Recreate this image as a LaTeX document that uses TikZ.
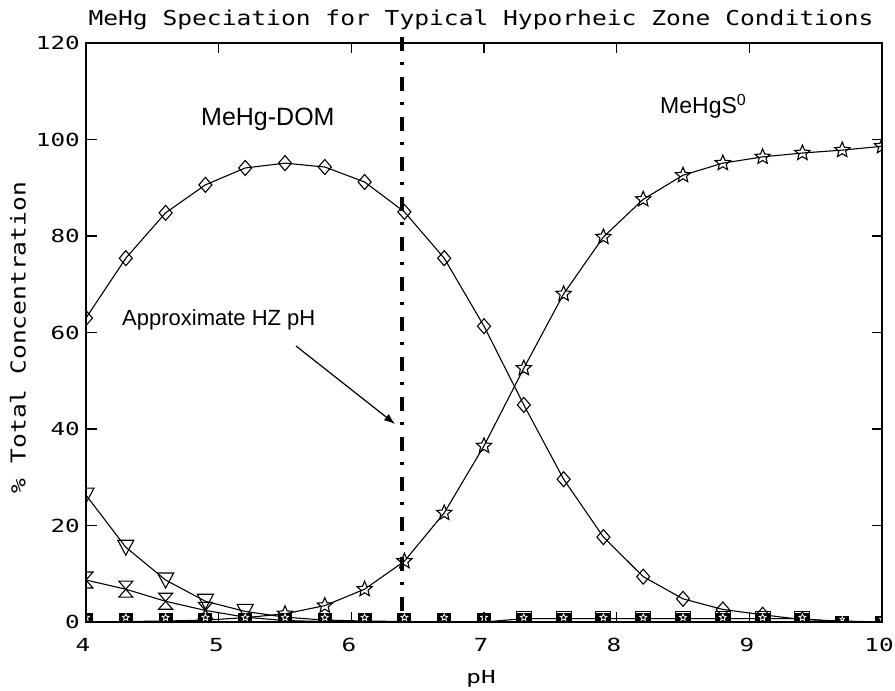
\documentclass[tikz,border=0pt]{standalone}
\usepackage{fontspec}
\usetikzlibrary{arrows.meta,plotmarks}
\newfontfamily\plotfont[FakeStretch=1.2]{DejaVu Sans Mono}
\newfontfamily\tickfont[FakeStretch=1.35]{DejaVu Sans Mono}
\newfontfamily\annofont{Liberation Sans}

% five-pointed star outline, outer radius 8pt
\newcommand\hzstarpath{%
  \pgfpathmoveto{\pgfqpoint{0pt}{8pt}}%
  \pgfpathlineto{\pgfqpoint{2.116pt}{2.912pt}}%
  \pgfpathlineto{\pgfqpoint{7.608pt}{2.472pt}}%
  \pgfpathlineto{\pgfqpoint{3.424pt}{-1.112pt}}%
  \pgfpathlineto{\pgfqpoint{4.702pt}{-6.472pt}}%
  \pgfpathlineto{\pgfqpoint{0pt}{-3.6pt}}%
  \pgfpathlineto{\pgfqpoint{-4.702pt}{-6.472pt}}%
  \pgfpathlineto{\pgfqpoint{-3.424pt}{-1.112pt}}%
  \pgfpathlineto{\pgfqpoint{-7.608pt}{2.472pt}}%
  \pgfpathlineto{\pgfqpoint{-2.116pt}{2.912pt}}%
  \pgfpathclose}

\pgfdeclareplotmark{hzstar}{\hzstarpath\pgfusepathqstroke}
\pgfdeclareplotmark{hzdiamond}{%
  \pgfpathmoveto{\pgfqpoint{0pt}{7.5pt}}%
  \pgfpathlineto{\pgfqpoint{6.5pt}{0pt}}%
  \pgfpathlineto{\pgfqpoint{0pt}{-7.5pt}}%
  \pgfpathlineto{\pgfqpoint{-6.5pt}{0pt}}%
  \pgfpathclose\pgfusepathqstroke}
\pgfdeclareplotmark{hzdowntri}{%
  \pgfpathmoveto{\pgfqpoint{-8pt}{7pt}}%
  \pgfpathlineto{\pgfqpoint{8pt}{7pt}}%
  \pgfpathlineto{\pgfqpoint{0pt}{-8pt}}%
  \pgfpathclose\pgfusepathqstroke}
\pgfdeclareplotmark{hzhourglass}{%
  \pgfpathmoveto{\pgfqpoint{-7pt}{8pt}}%
  \pgfpathlineto{\pgfqpoint{7pt}{8pt}}%
  \pgfpathlineto{\pgfqpoint{-7pt}{-8pt}}%
  \pgfpathlineto{\pgfqpoint{7pt}{-8pt}}%
  \pgfpathclose\pgfusepathqstroke}
\pgfdeclareplotmark{hzsquare}{%
  \pgfpathrectangle{\pgfqpoint{-7.5pt}{-7.5pt}}{\pgfqpoint{15pt}{15pt}}%
  \pgfusepathqstroke}
% overlapping near-zero markers: black block with a white star
\pgfdeclareplotmark{hzblob}{%
  \pgfpathrectangle{\pgfqpoint{-7pt}{0pt}}{\pgfqpoint{14pt}{9pt}}%
  \pgfusepathqfill
  \begin{pgfscope}%
    \pgfsetstrokecolor{white}\pgfsetlinewidth{0.8pt}%
    \pgftransformshift{\pgfqpoint{0pt}{4.5pt}}%
    \pgftransformscale{0.45}%
    \hzstarpath\pgfusepathqstroke
  \end{pgfscope}}
\pgfdeclareplotmark{hzblobsmall}{%
  \pgfpathrectangle{\pgfqpoint{-7pt}{0pt}}{\pgfqpoint{14pt}{6pt}}%
  \pgfusepathqfill
  \begin{pgfscope}%
    \pgfsetstrokecolor{white}\pgfsetlinewidth{0.7pt}%
    \pgftransformshift{\pgfqpoint{0pt}{3pt}}%
    \pgftransformscale{0.3}%
    \hzstarpath\pgfusepathqstroke
  \end{pgfscope}}

\begin{document}
\begin{tikzpicture}[x=1pt,y=-1pt,
  frame/.style={line width=1.4pt},
  tickline/.style={line width=1.3pt},
  series/.style={line width=1.1pt, mark options={solid}},
  ticklabel/.style={font=\tickfont\fontsize{18}{18}\selectfont, inner sep=0pt},
  plottext/.style={font=\plotfont\fontsize{20.5}{20.5}\selectfont, inner sep=0pt},
  annot/.style={inner sep=0pt, anchor=base west},
  hzline/.style={line width=4.5pt, dash pattern=on 14pt off 10.5pt on 3.5pt off 12pt},
  pointer/.style={line width=1.2pt, -{Latex[length=11pt,width=8pt]}}
]
\useasboundingbox[fill=white] (0,0) rectangle (895,691);

% ---- data curves, clipped to the plot area ----
\begin{scope}
\clip (86,43) rectangle (882,622);
\begin{scope}[shift={(-444.68pt,-622pt)}, x=132.67pt, y=4.825pt]
  % MeHg-DOM
  \draw[series] plot[mark=hzdiamond, mark indices={1,2,3,4,5,6,7,8,9,10,11,12,13,14,15,16,17,18,19}] coordinates {
    (4.0,63.0) (4.3,75.4) (4.6,84.8) (4.9,90.6) (5.2,94.1) (5.5,95.1) (5.8,94.3)
    (6.1,91.2) (6.4,85.0) (6.7,75.4) (7.0,61.3) (7.3,45.0) (7.6,29.6) (7.9,17.6)
    (8.2,9.4) (8.5,4.8) (8.8,2.6) (9.1,1.5) (9.4,0.5) (9.7,0.2) (10.0,0.0)};
  % MeHgS0
  \draw[series] plot[mark=hzstar, mark indices={6,7,8,9,10,11,12,13,14,15,16,17,18,19,20,21}] coordinates {
    (4.0,0.05) (4.3,0.1) (4.6,0.2) (4.9,0.4) (5.2,0.9) (5.5,1.7) (5.8,3.4)
    (6.1,6.8) (6.4,12.6) (6.7,22.6) (7.0,36.5) (7.3,52.6) (7.6,68.0) (7.9,79.8)
    (8.2,87.6) (8.5,92.6) (8.8,95.1) (9.1,96.4) (9.4,97.2) (9.7,97.8) (10.0,98.6)};
  % downward triangles
  \draw[series] plot[mark=hzdowntri, mark indices={1,2,3,4,5}] coordinates {
    (4.0,26.3) (4.3,15.5) (4.6,8.7) (4.9,4.3) (5.2,2.2) (5.5,1.0) (5.8,0.4)
    (6.1,0.2) (6.4,0.1) (6.7,0) (7.0,0) (7.3,0) (7.6,0) (7.9,0) (8.2,0) (8.5,0)
    (8.8,0) (9.1,0) (9.4,0) (9.7,0) (10.0,0)};
  % hourglasses
  \draw[series] plot[mark=hzhourglass, mark indices={1,2,3,4}] coordinates {
    (4.0,8.7) (4.3,6.8) (4.6,4.3) (4.9,2.4) (5.2,1.0) (5.5,0.3) (5.8,0.1)
    (6.1,0) (6.4,0) (6.7,0) (7.0,0) (7.3,0) (7.6,0) (7.9,0) (8.2,0) (8.5,0)
    (8.8,0) (9.1,0) (9.4,0) (9.7,0) (10.0,0)};
  % squares
  \draw[series] (4.0,0) -- (7.0,0) -- (7.3,0.7) -- (9.4,0.7) -- (9.7,0) -- (10.0,0);
  % near-zero species
  \path[fill=black] plot[only marks, mark=hzblob] coordinates {
    (4.0,0) (4.3,0) (4.6,0) (4.9,0) (5.2,0) (5.5,0) (5.8,0) (6.1,0) (6.4,0)
    (6.7,0) (7.0,0) (7.3,0) (7.6,0) (7.9,0) (8.2,0) (8.5,0) (8.8,0) (9.1,0) (9.4,0)};
  \path[fill=black] plot[only marks, mark=hzblobsmall] coordinates {(9.7,0) (10.0,0)};
  \draw[series] plot[only marks, mark=hzsquare] coordinates {
    (7.3,0.7) (7.6,0.7) (7.9,0.7) (8.2,0.7) (8.5,0.7) (8.8,0.7) (9.1,0.7) (9.4,0.7)};
\end{scope}
\end{scope}

% ---- frame and ticks ----
\draw[frame] (86,43) rectangle (882,622);
\foreach \tx in {218.67,351.33,484,616.67,749.33} {
  \draw[tickline] (\tx,622) -- (\tx,612);
  \draw[tickline] (\tx,43) -- (\tx,53);
}
\foreach \ty in {525.5,429,332.5,236,139.5} {
  \draw[tickline] (86,\ty) -- (97,\ty);
  \draw[tickline] (882,\ty) -- (872,\ty);
}

% ---- tick labels ----
\node[ticklabel, anchor=east] (y0)   at (80,622)   {0};
\node[ticklabel, anchor=east] (y20)  at (80,525.5) {20};
\node[ticklabel, anchor=east] (y40)  at (80,429)   {40};
\node[ticklabel, anchor=east] (y60)  at (80,332.5) {60};
\node[ticklabel, anchor=east] (y80)  at (80,236)   {80};
\node[ticklabel, anchor=east] (y100) at (80,139.5) {100};
\node[ticklabel, anchor=east] (y120) at (80,43)    {120};
\node[ticklabel, anchor=north] (x4)  at (83,638)  {4};
\node[ticklabel, anchor=north] (x5)  at (216.5,638) {5};
\node[ticklabel, anchor=north] (x6)  at (349,638) {6};
\node[ticklabel, anchor=north] (x7)  at (481,638) {7};
\node[ticklabel, anchor=north] (x8)  at (614,638) {8};
\node[ticklabel, anchor=north] (x9)  at (747,638) {9};
\node[ticklabel, anchor=north] (x10) at (879,638) {10};

% ---- axis titles ----
\node[plottext, anchor=base] (title) at (481,25) {MeHg Speciation for Typical Hyporheic Zone Conditions};
\node[ticklabel, anchor=base] (xlabel) at (481,683) {pH};
\node[plottext, rotate=90] (ylabel) at (18,337.5) {\% Total Concentration};

% ---- approximate hyporheic-zone pH ----
\coordinate (hztop) at (402,37);
\coordinate (hzbottom) at (402,622);
\draw[hzline] (hztop) -- (hzbottom);

\node[annot, font=\annofont\fontsize{25}{25}\selectfont] (dom) at (201,125) {MeHg-DOM};
\node[annot, font=\annofont\fontsize{23}{23}\selectfont] (s0) at (660,113) {MeHgS\raisebox{8pt}{\fontsize{16}{16}\selectfont 0}};
\node[annot, font=\annofont\fontsize{22}{22}\selectfont] (hzlabel) at (122,325) {Approximate HZ pH};
\coordinate (arrowtail) at (296,346);
\coordinate (arrowtip) at (395,424);
\draw[pointer] (arrowtail) -- (arrowtip);
\end{tikzpicture}
\end{document}
